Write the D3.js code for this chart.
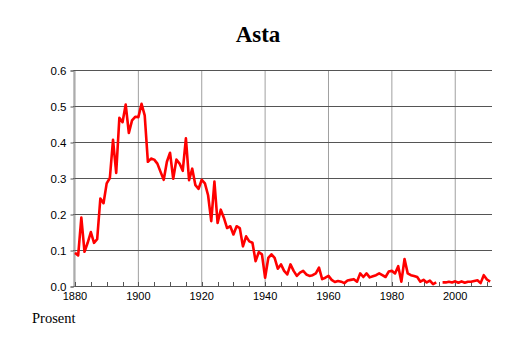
<!DOCTYPE html>
<html>
<head>
<meta charset="utf-8">
<script src="https://cdn.jsdelivr.net/npm/d3@7"></script>
<style>
  body { margin: 0; background: #fff; }
  svg { display: block; }
</style>
</head>
<body>
<svg id="chart" width="514" height="343"></svg>
<script>
// name frequency (percent) per year, 1880-2011; null = no data
var startYear = 1880;
var values = [
  0.092, 0.085, 0.19, 0.095, 0.12, 0.15, 0.12, 0.13, 0.243, 0.23,   // 1880-1889
  0.285, 0.30, 0.406, 0.314, 0.467, 0.455, 0.504, 0.425, 0.46, 0.47, // 1890-1899
  0.469, 0.506, 0.474, 0.345, 0.354, 0.351, 0.34, 0.317, 0.295, 0.345, // 1900-1909
  0.37, 0.298, 0.351, 0.34, 0.32, 0.41, 0.294, 0.326, 0.28, 0.27,   // 1910-1919
  0.295, 0.285, 0.252, 0.18, 0.29, 0.175, 0.212, 0.189, 0.161, 0.166, // 1920-1929
  0.143, 0.166, 0.161, 0.11, 0.138, 0.124, 0.12, 0.069, 0.094, 0.088, // 1930-1939
  0.023, 0.078, 0.088, 0.078, 0.048, 0.06, 0.042, 0.032, 0.06, 0.042, // 1940-1949
  0.028, 0.037, 0.042, 0.032, 0.028, 0.03, 0.035, 0.051, 0.019, 0.023, // 1950-1959
  0.028, 0.017, 0.011, 0.014, 0.012, 0.008, 0.015, 0.017, 0.019, 0.012, // 1960-1969
  0.035, 0.025, 0.035, 0.024, 0.027, 0.03, 0.035, 0.03, 0.025, 0.04, // 1970-1979
  0.042, 0.035, 0.055, 0.012, 0.075, 0.035, 0.03, 0.028, 0.025, 0.012, // 1980-1989
  0.017, 0.01, 0.015, 0.005, 0.01, null, 0.01, 0.01, 0.012, 0.01,   // 1990-1999
  0.013, 0.009, 0.013, 0.009, 0.012, 0.012, 0.014, 0.016, 0.008, 0.03, // 2000-2009
  0.018, 0.012                                                       // 2010-2011
];
var yTicks = [0, 0.1, 0.2, 0.3, 0.4, 0.5, 0.6];
var xLabels = [1880, 1900, 1920, 1940, 1960, 1980, 2000];
var title = "Asta";
var yLabel = "Prosent";

var data = values.map(function (v, i) { return { year: startYear + i, value: v }; });

var svg = d3.select("#chart");
var x = d3.scaleLinear().domain([1880, 2011.6]).range([75, 492]);
var y = d3.scaleLinear().domain([0, 0.6]).range([286, 70]);

// vertical grid (every 20 years)
svg.append("g").selectAll("line")
  .data(xLabels)
  .enter().append("line")
  .attr("x1", d => x(d)).attr("x2", d => x(d))
  .attr("y1", y(0.6)).attr("y2", y(0))
  .attr("stroke", "#a0a0a0").attr("stroke-width", 1);

// horizontal grid
svg.append("g").selectAll("line")
  .data(yTicks)
  .enter().append("line")
  .attr("x1", 73).attr("x2", x.range()[1])
  .attr("y1", d => Math.round(y(d)) + 0.5).attr("y2", d => Math.round(y(d)) + 0.5)
  .attr("stroke", "#555").attr("stroke-width", 1);

// left axis
var yAxis = d3.axisLeft(y).tickValues(yTicks).tickFormat(d3.format(".1f")).tickSize(3).tickPadding(4);
svg.append("g")
  .attr("transform", "translate(73.5,0.5)")
  .call(yAxis)
  .call(g => g.select(".domain").attr("stroke", "#888"))
  .call(g => g.selectAll(".tick line").attr("stroke", "#555"))
  .call(g => g.selectAll("text").attr("font-family", "Liberation Sans, Arial, sans-serif").attr("font-size", 11.5).attr("fill", "#000"));

// bottom axis: minor ticks every 5 years pointing up, labels every 20
var minor = d3.range(1880, 2012, 5);
svg.append("g").selectAll("line")
  .data(minor)
  .enter().append("line")
  .attr("x1", d => Math.round(x(d)) + 0.5).attr("x2", d => Math.round(x(d)) + 0.5)
  .attr("y1", 286).attr("y2", 282)
  .attr("stroke", "#555");

svg.append("g").selectAll("text")
  .data(xLabels)
  .enter().append("text")
  .attr("x", d => x(d)).attr("y", 300)
  .attr("text-anchor", "middle")
  .attr("font-family", "Liberation Sans, Arial, sans-serif")
  .attr("font-size", 11)
  .text(d => d);

// series
var line = d3.line()
  .defined(d => d.value !== null)
  .x(d => x(d.year))
  .y(d => y(d.value));

svg.append("path")
  .datum(data)
  .attr("d", line)
  .attr("fill", "none")
  .attr("stroke", "#ff0000")
  .attr("stroke-width", 2.6)
  .attr("stroke-linejoin", "round");

svg.append("text")
  .attr("x", 258).attr("y", 42)
  .attr("text-anchor", "middle")
  .attr("font-family", "Liberation Serif, Times New Roman, serif")
  .attr("font-weight", "bold")
  .attr("font-size", 23)
  .text(title);

svg.append("text")
  .attr("x", 32).attr("y", 323)
  .attr("font-family", "Liberation Serif, Times New Roman, serif")
  .attr("font-size", 14.5)
  .text(yLabel);
</script>
</body>
</html>
